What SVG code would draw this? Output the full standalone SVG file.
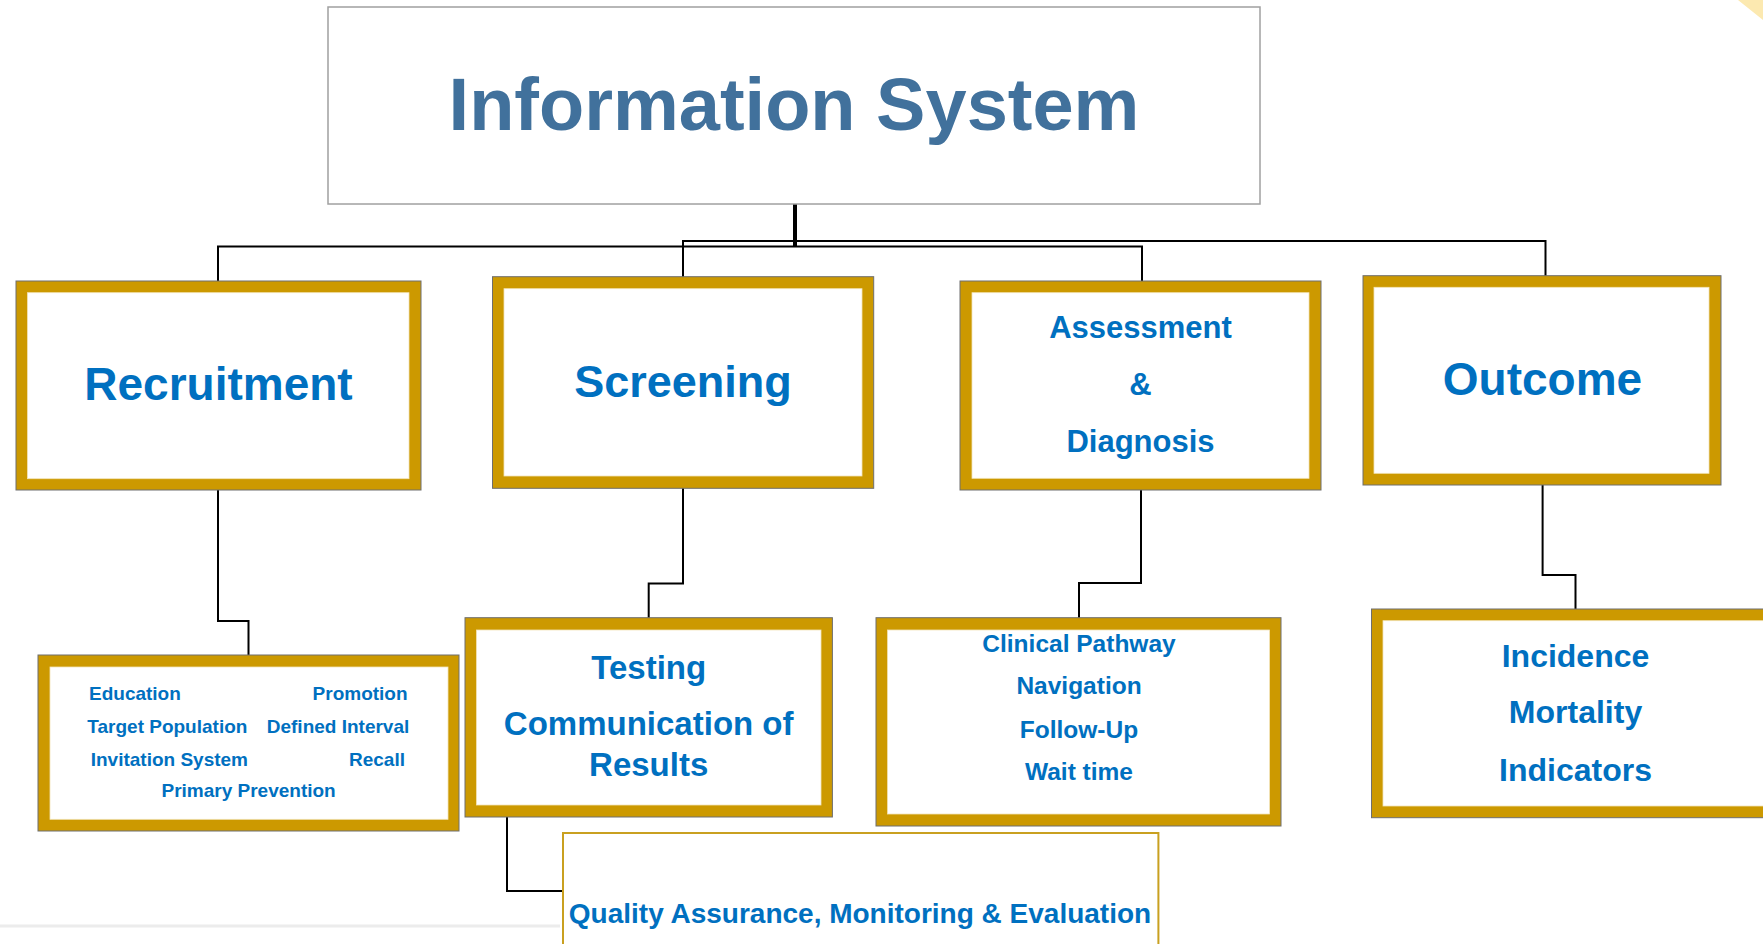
<svg xmlns="http://www.w3.org/2000/svg" width="1763" height="944" viewBox="0 0 1763 944">
<style>
.gold{fill:#CC9900;stroke:#6e6e6e;stroke-width:1}
.inner{fill:#ffffff;stroke:#f3e4b8;stroke-width:0.8}
.lbl{font-family:"Liberation Sans",Arial,sans-serif;font-weight:bold;fill:#0070C0;text-anchor:middle}
.wire{fill:none;stroke:#000;stroke-width:2}
</style>
<rect width="1763" height="944" fill="#ffffff"/>
<polygon points="1738,0 1763,0 1763,20" fill="#FCE9B0"/>
<line x1="0" y1="926" x2="560" y2="926" stroke="#ececec" stroke-width="3"/>

<g id="connectors">
  <line x1="795" y1="204" x2="795" y2="247" stroke="#000" stroke-width="4"/>
  <polyline class="wire" points="218,282 218,246.5 1142,246.5 1142,281"/>
  <polyline class="wire" points="683,277 683,241 1545.5,241 1545.5,276"/>
  <polyline class="wire" points="218,490 218,621 248.5,621 248.5,655"/>
  <polyline class="wire" points="683,488 683,583.5 648.7,583.5 648.7,618"/>
  <polyline class="wire" points="1141,490 1141,583 1079,583 1079,618"/>
  <polyline class="wire" points="1542.6,485 1542.6,575 1575.5,575 1575.5,609"/>
  <polyline class="wire" points="507,817 507,891 563,891"/>
</g>

<g id="information-system">
  <rect x="328" y="7" width="932" height="197" fill="#ffffff" stroke="#a0a0a0" stroke-width="1.5"/>
  <text x="794" y="130" font-family="'Liberation Sans',Arial,sans-serif" font-weight="bold" font-size="74" fill="#41719C" text-anchor="middle">Information System</text>
</g>

<g id="recruitment">
  <rect class="gold" x="16" y="281" width="405" height="209"/>
  <rect class="inner" x="27.5" y="292.7" width="381.5" height="186"/>
  <text class="lbl" x="218.5" y="400" font-size="46">Recruitment</text>
</g>

<g id="screening">
  <rect class="gold" x="492.5" y="276.7" width="381.2" height="211.6"/>
  <rect class="inner" x="504" y="288.7" width="358" height="187.3"/>
  <text class="lbl" x="683" y="397" font-size="45">Screening</text>
</g>

<g id="assessment">
  <rect class="gold" x="960" y="281" width="361" height="209"/>
  <rect class="inner" x="972" y="292.7" width="337" height="185.6"/>
  <text class="lbl" x="1140.5" y="338" font-size="31">Assessment</text>
  <text class="lbl" x="1140.5" y="395" font-size="31">&amp;</text>
  <text class="lbl" x="1140.5" y="452" font-size="31">Diagnosis</text>
</g>

<g id="outcome">
  <rect class="gold" x="1363" y="275.7" width="358" height="209.3"/>
  <rect class="inner" x="1374" y="287.3" width="335" height="186"/>
  <text class="lbl" x="1542.5" y="395" font-size="46">Outcome</text>
</g>

<g id="recruitment-details">
  <rect class="gold" x="38" y="655" width="421" height="176"/>
  <rect class="inner" x="50" y="667" width="398" height="152.3"/>
  <text class="lbl" x="89" y="700" font-size="19" text-anchor="start" style="text-anchor:start">Education</text>
  <text class="lbl" x="407.6" y="700" font-size="19" style="text-anchor:end">Promotion</text>
  <text class="lbl" x="87.3" y="733.3" font-size="19" style="text-anchor:start">Target Population</text>
  <text class="lbl" x="409.3" y="733.3" font-size="19" style="text-anchor:end">Defined Interval</text>
  <text class="lbl" x="90.7" y="766" font-size="19" style="text-anchor:start">Invitation System</text>
  <text class="lbl" x="405" y="766" font-size="19" style="text-anchor:end">Recall</text>
  <text class="lbl" x="248.6" y="797" font-size="19">Primary Prevention</text>
</g>

<g id="testing">
  <rect class="gold" x="465" y="617.7" width="367.4" height="199.3"/>
  <rect class="inner" x="476.5" y="630" width="344.5" height="175"/>
  <text class="lbl" x="648.7" y="679" font-size="33">Testing</text>
  <text class="lbl" x="648.7" y="735" font-size="33">Communication of</text>
  <text class="lbl" x="648.7" y="776" font-size="33">Results</text>
</g>

<g id="assessment-details">
  <rect class="gold" x="876" y="617.7" width="405" height="208.3"/>
  <rect class="inner" x="887.6" y="630" width="382" height="184"/>
  <text class="lbl" x="1079" y="651.7" font-size="24.5">Clinical Pathway</text>
  <text class="lbl" x="1079" y="694.3" font-size="24.5">Navigation</text>
  <text class="lbl" x="1079" y="737.7" font-size="24.5">Follow-Up</text>
  <text class="lbl" x="1079" y="780" font-size="24.5">Wait time</text>
</g>

<g id="outcome-details">
  <rect class="gold" x="1371.5" y="609" width="420" height="208.7"/>
  <rect class="inner" x="1383" y="620.7" width="400" height="185.3"/>
  <text class="lbl" x="1575.5" y="666.7" font-size="32">Incidence</text>
  <text class="lbl" x="1575.5" y="723.3" font-size="32">Mortality</text>
  <text class="lbl" x="1575.5" y="781" font-size="32">Indicators</text>
</g>

<g id="quality-assurance">
  <rect x="563" y="833" width="595.4" height="130" fill="#ffffff" stroke="#C9A020" stroke-width="2"/>
  <text class="lbl" x="860" y="923" font-size="28">Quality Assurance, Monitoring &amp; Evaluation</text>
</g>
</svg>
